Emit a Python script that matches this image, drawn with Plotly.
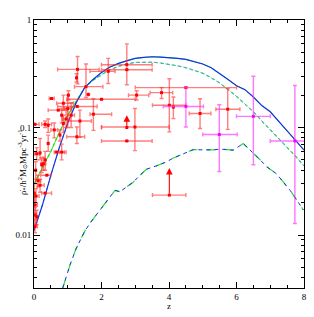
import math
import plotly.graph_objects as go

# ---------------- data ----------------
# red observational points: z, value, z range, value range
red_z   = [2.75, 2.75, 2.2, 3.78, 4.5, 4.01, 4.13, 4.92, 5.74, 2.99, 2.75, 1.76, 2.0, 3.04,
           1.29, 1.26, 1.54, 1.61, 1.02, 0.52, 1.28, 1.36, 0.72, 0.42, 0.03, 1.27, 0.77, 0.18,
           0.87, 0.82, 0.87, 0.33, 0.42, 0.82, 0.67, 0.33, 0.23, 0.38, 0.18, 0.33, 0.01, 0.03,
           0.03, 0.03, 0.08, 0.06, 0.05, 0.08, 0.28, 0.12, 1.0, 1.1, 0.95, 0.6]
red_v   = [0.384, 0.345, 0.333, 0.211, 0.235, 0.161, 0.155, 0.135, 0.148, 0.101, 0.075, 0.133, 0.183, 0.2,
           0.347, 0.29, 0.24, 0.203, 0.2, 0.186, 0.157, 0.115, 0.145, 0.105, 0.107, 0.082, 0.085, 0.058,
           0.168, 0.13, 0.109, 0.107, 0.071, 0.059, 0.059, 0.05, 0.045, 0.036, 0.029, 0.0245, 0.0245, 0.019,
           0.0153, 0.012, 0.0148, 0.023, 0.04, 0.057, 0.046, 0.032, 0.15, 0.13, 0.12, 0.095]
red_zlo = [2.0, 2.0, 1.66, 3.44, 3.0, 3.51, 4.13, 4.6, 5.39, 2.0, 2.0, 1.66, 0.97, 2.8,
           0.7, 1.26, 1.2, 1.61, 1.02, 0.45, 0.7, 1.0, 0.42, 0.42, 0.0, 0.97, 0.77, 0.18,
           0.67, 0.82, 0.87, 0.23, 0.42, 0.75, 0.6, 0.33, 0.23, 0.2, 0.1, 0.23, 0.01, 0.0,
           0.03, 0.0, 0.08, 0.0, 0.05, 0.02, 0.2, 0.05, 0.9, 1.0, 0.85, 0.5]
red_zhi = [3.5, 3.5, 2.4, 4.11, 6.0, 4.5, 4.13, 5.24, 6.1, 4.0, 3.5, 2.3, 3.0, 3.4,
           1.93, 1.26, 2.04, 1.61, 1.02, 0.6, 1.87, 1.7, 1.0, 0.42, 0.15, 1.5, 0.77, 0.18,
           1.17, 0.82, 0.87, 0.52, 0.42, 0.9, 0.95, 0.33, 0.23, 0.5, 0.3, 0.52, 0.01, 0.1,
           0.03, 0.1, 0.08, 0.15, 0.05, 0.15, 0.35, 0.2, 1.1, 1.2, 1.05, 0.7]
red_vlo = [0.25, 0.345, 0.257, 0.186, 0.235, 0.091, 0.121, 0.098, 0.096, 0.061, 0.075, 0.094, 0.183, 0.18,
           0.255, 0.265, 0.19, 0.203, 0.18, 0.186, 0.157, 0.081, 0.145, 0.09, 0.107, 0.071, 0.075, 0.05,
           0.145, 0.11, 0.09, 0.1, 0.06, 0.05, 0.059, 0.04, 0.038, 0.036, 0.025, 0.0245, 0.02, 0.016,
           0.0125, 0.0105, 0.0125, 0.02, 0.033, 0.05, 0.04, 0.028, 0.1, 0.1, 0.1, 0.08]
red_vhi = [0.60, 0.345, 0.44, 0.235, 0.235, 0.284, 0.192, 0.185, 0.23, 0.15, 0.075, 0.185, 0.183, 0.22,
           0.458, 0.316, 0.39, 0.203, 0.22, 0.186, 0.157, 0.145, 0.145, 0.12, 0.107, 0.101, 0.095, 0.079,
           0.2, 0.15, 0.13, 0.115, 0.085, 0.07, 0.059, 0.06, 0.052, 0.036, 0.033, 0.0245, 0.03, 0.023,
           0.018, 0.014, 0.017, 0.027, 0.048, 0.065, 0.053, 0.036, 0.2, 0.17, 0.15, 0.11]

# lower limits (arrows): z, base value, tip value, z range
lim_z   = [4.01, 2.75]
lim_v   = [0.0235, 0.100]
lim_top = [0.042, 0.13]
lim_zlo = [3.51, 2.0]
lim_zhi = [4.5, 2.0]

# magenta points
mag_z   = [4.5, 5.49, 6.5, 7.73]
mag_v   = [0.157, 0.086, 0.127, 0.075]
mag_zlo = [3.83, 5.0, 6.0, 7.0]
mag_zhi = [5.02, 6.02, 7.0, 8.08]
mag_vlo = [0.101, 0.039, 0.045, 0.0128]
mag_vhi = [0.238, 0.163, 0.30, 0.246]

# model curves
curve_z = [0.0, 0.25, 0.5, 0.75, 1.0, 1.25, 1.5, 1.75, 2.0, 2.25, 2.5, 2.75, 3.0, 3.25, 3.5, 3.75,
           4.0, 4.25, 4.5, 4.75, 5.0, 5.25, 5.5, 5.75, 6.0, 6.25, 6.5, 6.75, 7.0, 7.25, 7.5, 7.75, 8.0]
solid_low_blue  = [0.011, 0.019, 0.036, 0.065, 0.11, 0.17]
solid_low_green = [0.030, 0.043, 0.060, 0.090, 0.13, 0.175]
solid_high = [0.235, 0.28, 0.325, 0.365, 0.395, 0.42, 0.44, 0.45, 0.455, 0.452,
              0.447, 0.44, 0.43, 0.41, 0.39, 0.36, 0.32, 0.28, 0.245, 0.225, 0.192, 0.16, 0.14, 0.113, 0.093, 0.076, 0.0616]
dotted_high = [0.235, 0.275, 0.31, 0.345, 0.37, 0.39, 0.403, 0.407, 0.405, 0.398,
               0.388, 0.375, 0.36, 0.34, 0.32, 0.29, 0.26, 0.225, 0.195, 0.165, 0.14, 0.115, 0.095, 0.08, 0.066, 0.054, 0.044]

dash_z = [0.85, 1.0, 1.07, 1.25, 1.36, 1.5, 1.66, 1.96, 2.2, 2.4, 2.55, 2.75, 2.94, 3.14, 3.34, 3.63, 3.93,
          4.13, 4.33, 4.52, 4.72, 4.92, 5.12, 5.31, 5.51, 5.7, 5.9, 6.05, 6.2, 6.35, 6.5, 6.7, 6.9, 7.19,
          7.39, 7.59, 7.79, 7.98]
dash_v = [0.0032, 0.0045, 0.0053, 0.0075, 0.0089, 0.0108, 0.0129, 0.0171, 0.022, 0.026, 0.0253, 0.028, 0.031,
          0.036, 0.041, 0.044, 0.048, 0.052, 0.055, 0.059, 0.0623, 0.062, 0.0615, 0.062, 0.063, 0.062, 0.0615,
          0.066, 0.071, 0.064, 0.057, 0.05, 0.043, 0.037, 0.031, 0.026, 0.021, 0.0171]

x_ticks = [0, 2, 4, 6, 8]
y_ticks = [0.01, 0.1, 1]
y_ticktext = ["0.01", "0.1", "1"]
y_minor = [m * d for d in (0.001, 0.01, 0.1) for m in range(2, 10)]

# ---------------- figure ----------------
RED = "rgb(255,0,0)"
RED_BAR = "rgba(255,40,40,0.6)"
MAG = "rgb(255,0,255)"
MAG_BAR = "rgba(255,60,255,0.7)"
BLUE = "rgb(20,50,230)"
LBLUE = "rgb(90,150,255)"
GREEN = "rgb(40,225,40)"

fig = go.Figure()

blue_solid = solid_low_blue + solid_high
green_solid = solid_low_green + solid_high
blue_dotted = solid_low_blue + dotted_high
green_dotted = solid_low_green + dotted_high

fig.add_trace(go.Scatter(x=curve_z, y=green_dotted, mode="lines", line=dict(color=GREEN, width=1.2, dash="dot")))
fig.add_trace(go.Scatter(x=curve_z, y=blue_dotted, mode="lines", line=dict(color=LBLUE, width=1, dash="dot")))
fig.add_trace(go.Scatter(x=curve_z, y=green_solid, mode="lines", line=dict(color=GREEN, width=1)))
fig.add_trace(go.Scatter(x=curve_z, y=blue_solid, mode="lines", line=dict(color=BLUE, width=1.2)))
fig.add_trace(go.Scatter(x=dash_z, y=dash_v, mode="lines", line=dict(color=GREEN, width=1.2, dash="dash")))
fig.add_trace(go.Scatter(x=dash_z, y=dash_v, mode="lines", line=dict(color=BLUE, width=1, dash="4px,4px")))


def err(vals, lo, hi):
    plus = [h - v for v, h in zip(vals, hi)]
    minus = [v - l for v, l in zip(vals, lo)]
    return plus, minus


zp, zm = err(red_z, red_zlo, red_zhi)
vp, vm = err(red_v, red_vlo, red_vhi)
fig.add_trace(go.Scatter(
    x=red_z, y=red_v, mode="markers",
    marker=dict(symbol="square", size=3, color=RED),
    error_x=dict(type="data", array=zp, arrayminus=zm, color=RED_BAR, thickness=1.4, width=2),
    error_y=dict(type="data", array=vp, arrayminus=vm, color=RED_BAR, thickness=1.4, width=2),
))

lp, lm = err(lim_z, lim_zlo, lim_zhi)
fig.add_trace(go.Scatter(
    x=lim_z, y=lim_v, mode="markers",
    marker=dict(symbol="square", size=3, color=RED),
    error_x=dict(type="data", array=lp, arrayminus=lm, color=RED_BAR, thickness=1.4, width=2),
))

mp, mm = err(mag_z, mag_zlo, mag_zhi)
mvp, mvm = err(mag_v, mag_vlo, mag_vhi)
fig.add_trace(go.Scatter(
    x=mag_z, y=mag_v, mode="markers",
    marker=dict(symbol="square", size=3, color=MAG),
    error_x=dict(type="data", array=mp, arrayminus=mm, color=MAG_BAR, thickness=1.4, width=2),
    error_y=dict(type="data", array=mvp, arrayminus=mvm, color=MAG_BAR, thickness=1.4, width=2),
))

for z, v, t in zip(lim_z, lim_v, lim_top):
    fig.add_annotation(x=z, y=math.log10(t), ax=z, ay=math.log10(v), xref="x", yref="y",
                       axref="x", ayref="y", showarrow=True, arrowhead=2, arrowsize=1.2,
                       arrowwidth=1.1, arrowcolor=RED, text="")

FONT = "Liberation Serif"
fig.update_layout(
    width=314, height=317,
    margin=dict(l=34, r=10, t=20, b=29, autoexpand=False),
    paper_bgcolor="white", plot_bgcolor="white",
    showlegend=False,
    font=dict(family=FONT, size=9, color="black"),
)
fig.update_xaxes(
    range=[0, 8], tickmode="array", tickvals=x_ticks, automargin=False,
    ticks="inside", ticklen=6, tickwidth=1, tickcolor="black",
    showline=True, linecolor="black", linewidth=1, mirror="allticks",
    showgrid=False, zeroline=False,
    minor=dict(dtick=0.5, ticks="inside", ticklen=3, tickcolor="black", showgrid=False),
    tickfont=dict(size=9),
)
fig.update_yaxes(
    type="log", range=[-2.493, 0], tickmode="array", tickvals=y_ticks, ticktext=y_ticktext,
    automargin=False,
    ticks="inside", ticklen=6, tickwidth=1, tickcolor="black",
    showline=True, linecolor="black", linewidth=1, mirror="allticks",
    showgrid=False, zeroline=False,
    minor=dict(tickmode="array", tickvals=y_minor, ticks="inside", ticklen=3, tickcolor="black", showgrid=False),
    tickfont=dict(size=9),
)
# axis titles placed as annotations (outside the plot area)
fig.add_annotation(text="z", xref="paper", yref="paper", x=0.5, y=-0.068,
                   showarrow=False, font=dict(size=9), xanchor="center", yanchor="middle")
fig.add_annotation(text="ρ̇<sub>*</sub>/h<sup>2</sup>M<sub>⊙</sub>Mpc<sup>-3</sup>yr<sup>-1</sup>",
                   xref="paper", yref="paper", x=-0.045, y=0.47, textangle=-90,
                   showarrow=False, font=dict(size=9), xanchor="center", yanchor="middle")

fig.write_html("out.html", config={"displayModeBar": False},
               post_script="document.body.style.margin='0';document.body.style.padding='0';")
